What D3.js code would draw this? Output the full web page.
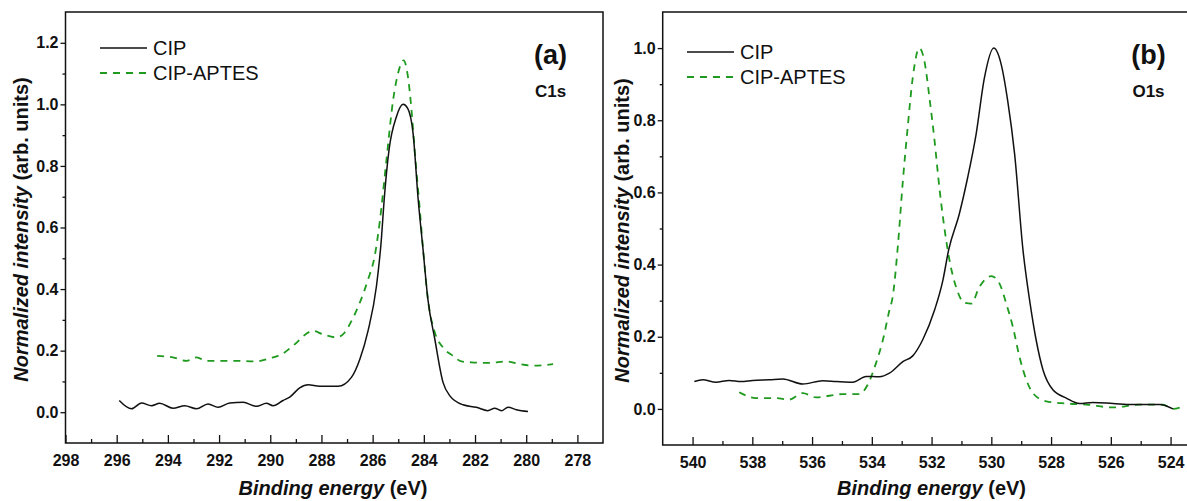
<!DOCTYPE html>
<html lang="en">
<head>
<meta charset="UTF-8">
<script src="https://d3js.org/d3.v7.min.js"></script>
<title>XPS C1s / O1s</title>
<style>
  body { margin: 0; background: #fff; }
  svg { display: block; font-family: Arial, "Liberation Sans", sans-serif; }
  .tick text { font-size: 16px; font-weight: bold; fill: #111; }
  .tick line { stroke: #111; stroke-width: 1.3; }
</style>
</head>
<body>
<svg width="1187" height="501"></svg>
<script>
// ---- data ----
const seriesNames = ["CIP", "CIP-APTES"]

// (a) C1s
const c1sCipE = [295.9, 295.42, 295.03, 294.64, 294.32, 293.8, 293.34, 292.88, 292.43, 292.04, 291.58, 291.06, 290.54, 290.15, 289.89, 289.5, 289.24, 288.85, 288.52, 288.07, 287.35, 286.83, 286.5, 286.18, 285.85, 285.66, 285.55, 285.36, 285.07, 284.81, 284.63, 284.42, 284.22, 284.03, 283.84, 283.57, 283.25, 282.99, 282.47, 281.95, 281.5, 281.23, 280.97, 280.71, 280.38, 279.93]
const c1sCip = [0.038, 0.011, 0.030, 0.021, 0.029, 0.013, 0.021, 0.011, 0.027, 0.016, 0.030, 0.032, 0.019, 0.029, 0.021, 0.038, 0.049, 0.079, 0.089, 0.084, 0.084, 0.113, 0.172, 0.264, 0.41, 0.561, 0.69, 0.852, 0.96, 1.0, 0.987, 0.906, 0.69, 0.528, 0.366, 0.237, 0.097, 0.054, 0.024, 0.016, 0.005, 0.013, 0.005, 0.016, 0.008, 0.002]
const c1sAptesE = [294.42, 293.8, 293.27, 292.88, 292.49, 291.45, 290.54, 290.02, 289.5, 289.11, 288.33, 287.94, 287.41, 287.09, 286.83, 286.5, 286.18, 285.92, 285.72, 285.46, 285.2, 285.01, 284.79, 284.62, 284.48, 284.36, 284.16, 284.03, 283.84, 283.57, 283.25, 282.86, 282.53, 282.14, 281.43, 280.77, 280.25, 279.73, 278.95]
const c1sAptes = [0.183, 0.178, 0.167, 0.178, 0.167, 0.167, 0.165, 0.175, 0.191, 0.216, 0.264, 0.253, 0.243, 0.259, 0.296, 0.356, 0.431, 0.507, 0.62, 0.82, 1.014, 1.1, 1.143, 1.089, 0.98, 0.852, 0.66, 0.53, 0.366, 0.259, 0.21, 0.183, 0.165, 0.162, 0.16, 0.165, 0.156, 0.151, 0.156]

// (b) O1s
const o1sCipE = [539.94, 539.66, 539.22, 538.77, 538.38, 537.99, 537.43, 536.98, 536.31, 535.64, 535.2, 534.64, 534.19, 533.75, 533.41, 532.96, 532.63, 532.3, 531.9, 531.62, 531.43, 531.07, 530.79, 530.51, 530.23, 529.92, 529.67, 529.45, 529.22, 528.94, 528.72, 528.5, 528.27, 527.94, 527.49, 527.05, 526.6, 525.93, 525.26, 524.37, 523.92]
const o1sCip = [0.076, 0.081, 0.074, 0.079, 0.076, 0.079, 0.081, 0.083, 0.069, 0.078, 0.076, 0.074, 0.09, 0.089, 0.099, 0.131, 0.147, 0.191, 0.274, 0.357, 0.44, 0.541, 0.642, 0.761, 0.918, 1.0, 0.955, 0.853, 0.706, 0.44, 0.302, 0.191, 0.108, 0.053, 0.03, 0.015, 0.018, 0.015, 0.012, 0.012, 0.0]
const o1sAptesE = [538.44, 537.88, 537.21, 536.76, 536.31, 535.87, 534.98, 534.42, 534.14, 533.86, 533.63, 533.41, 533.3, 533.13, 532.96, 532.8, 532.63, 532.41, 532.24, 532.07, 531.9, 531.74, 531.51, 531.4, 531.18, 530.9, 530.67, 530.4, 530.0, 529.73, 529.5, 529.28, 529.06, 528.83, 528.61, 528.16, 527.49, 526.82, 525.93, 525.04, 524.26, 523.92, 523.59]
const o1sAptes = [0.046, 0.03, 0.03, 0.026, 0.044, 0.032, 0.041, 0.041, 0.067, 0.127, 0.191, 0.274, 0.311, 0.45, 0.633, 0.78, 0.918, 1.0, 0.964, 0.862, 0.743, 0.614, 0.467, 0.412, 0.338, 0.294, 0.292, 0.338, 0.368, 0.348, 0.292, 0.228, 0.145, 0.081, 0.044, 0.021, 0.015, 0.012, 0.004, 0.012, 0.012, 0.0, 0.007]

// ticks
const c1sXTicks = [298, 296, 294, 292, 290, 288, 286, 284, 282, 280, 278]
const c1sXMinor = [297, 295, 293, 291, 289, 287, 285, 283, 281, 279]
const c1sYTicks = [0.0, 0.2, 0.4, 0.6, 0.8, 1.0, 1.2]
const c1sYMinor = [0.1, 0.3, 0.5, 0.7, 0.9, 1.1]
const o1sXTicks = [540, 538, 536, 534, 532, 530, 528, 526, 524]
const o1sXMinor = [539, 537, 535, 533, 531, 529, 527, 525]
const o1sYTicks = [0.0, 0.2, 0.4, 0.6, 0.8, 1.0]
const o1sYMinor = [0.1, 0.3, 0.5, 0.7, 0.9]

const svg = d3.select("svg")
const green = "#1e9a1e"

const drawPanel = (p) => {
    const x = d3.scaleLinear().domain(p.xDomain).range([p.left, p.right])
    const y = d3.scaleLinear().domain(p.yDomain).range([p.bottom, p.top])
    const g = svg.append("g")

    // x axis: ticks point inward
    g.append("g")
        .attr("transform", `translate(0,${p.bottom})`)
        .call(d3.axisBottom(x).tickValues(p.xTicks).tickSizeInner(-8).tickSizeOuter(0).tickPadding(12).tickFormat(d3.format("d")))
        .call(a => a.select(".domain").remove())
    g.append("g")
        .attr("transform", `translate(0,${p.bottom})`)
        .call(d3.axisBottom(x).tickValues(p.xMinor).tickSizeInner(-4).tickSizeOuter(0).tickFormat(""))
        .call(a => a.select(".domain").remove())

    // y axis: ticks point outward
    g.append("g")
        .attr("transform", `translate(${p.left},0)`)
        .call(d3.axisLeft(y).tickValues(p.yTicks).tickSizeInner(5).tickSizeOuter(0).tickPadding(2).tickFormat(d3.format(".1f")))
        .call(a => a.select(".domain").remove())
    g.append("g")
        .attr("transform", `translate(${p.left},0)`)
        .call(d3.axisLeft(y).tickValues(p.yMinor).tickSizeInner(3).tickSizeOuter(0).tickFormat(""))
        .call(a => a.select(".domain").remove())

    // frame
    g.append("rect")
        .attr("x", p.left).attr("y", p.top)
        .attr("width", p.right - p.left).attr("height", p.bottom - p.top)
        .attr("fill", "none").attr("stroke", "#111").attr("stroke-width", 1.5)

    const line = d3.line().x(d => x(d[0])).y(d => y(d[1])).curve(d3.curveMonotoneX)
    g.append("path")
        .datum(d3.zip(p.aptesE, p.aptes))
        .attr("d", line)
        .attr("fill", "none").attr("stroke", green).attr("stroke-width", 1.8)
        .attr("stroke-dasharray", "7,6")
    g.append("path")
        .datum(d3.zip(p.cipE, p.cip))
        .attr("d", line)
        .attr("fill", "none").attr("stroke", "#111").attr("stroke-width", 1.5)

    // legend
    seriesNames.forEach((name, i) => {
        const ly = p.legendY + i * 25
        g.append("line")
            .attr("x1", p.legendX).attr("x2", p.legendX + 47)
            .attr("y1", ly).attr("y2", ly)
            .attr("stroke", i === 0 ? "#111" : green)
            .attr("stroke-width", i === 0 ? 1.5 : 1.8)
            .attr("stroke-dasharray", i === 0 ? null : "7,6")
        g.append("text")
            .attr("x", p.legendX + 53).attr("y", ly + 7)
            .attr("font-size", 20).attr("fill", "#111")
            .text(name)
    })

    // panel tag and core level
    g.append("text")
        .attr("x", p.tagX).attr("y", 64)
        .attr("text-anchor", "middle").attr("font-size", 27).attr("font-weight", "bold").attr("fill", "#111")
        .text(p.tag)
    g.append("text")
        .attr("x", p.tagX).attr("y", 96.5)
        .attr("text-anchor", "middle").attr("font-size", 17).attr("font-weight", "bold").attr("fill", "#111")
        .text(p.level)

    // axis titles
    const xt = g.append("text")
        .attr("x", x(p.xTitleAt)).attr("y", 494.5)
        .attr("text-anchor", "middle").attr("font-size", 20).attr("font-weight", "bold").attr("fill", "#111")
    xt.append("tspan").attr("font-style", "italic").text("Binding energy")
    xt.append("tspan").text(" (eV)")

    const yt = g.append("text")
        .attr("transform", `translate(${p.left - p.yTitleOff},${(p.top + p.bottom) / 2 + 2}) rotate(-90)`)
        .attr("text-anchor", "middle").attr("font-size", 20).attr("font-weight", "bold").attr("fill", "#111")
    yt.append("tspan").attr("font-style", "italic").text("Normalized intensity")
    yt.append("tspan").text(" (arb. units)")
}

drawPanel({
    left: 65.5, right: 603, top: 12, bottom: 443,
    xDomain: [298, 277], yDomain: [-0.1, 1.3],
    xTicks: c1sXTicks, xMinor: c1sXMinor, yTicks: c1sYTicks, yMinor: c1sYMinor,
    cipE: c1sCipE, cip: c1sCip, aptesE: c1sAptesE, aptes: c1sAptes,
    legendX: 100, legendY: 48, tag: "(a)", level: "C1s", tagX: 550.5,
    xTitleAt: 287.55, yTitleOff: 37.5
})
drawPanel({
    left: 662.7, right: 1188.5, top: 12, bottom: 445,
    xDomain: [541, 523.4], yDomain: [-0.1, 1.1],
    xTicks: o1sXTicks, xMinor: o1sXMinor, yTicks: o1sYTicks, yMinor: o1sYMinor,
    cipE: o1sCipE, cip: o1sCip, aptesE: o1sAptesE, aptes: o1sAptes,
    legendX: 687, legendY: 52, tag: "(b)", level: "O1s", tagX: 1148.5,
    xTitleAt: 532, yTitleOff: 34
})
</script>
</body>
</html>
